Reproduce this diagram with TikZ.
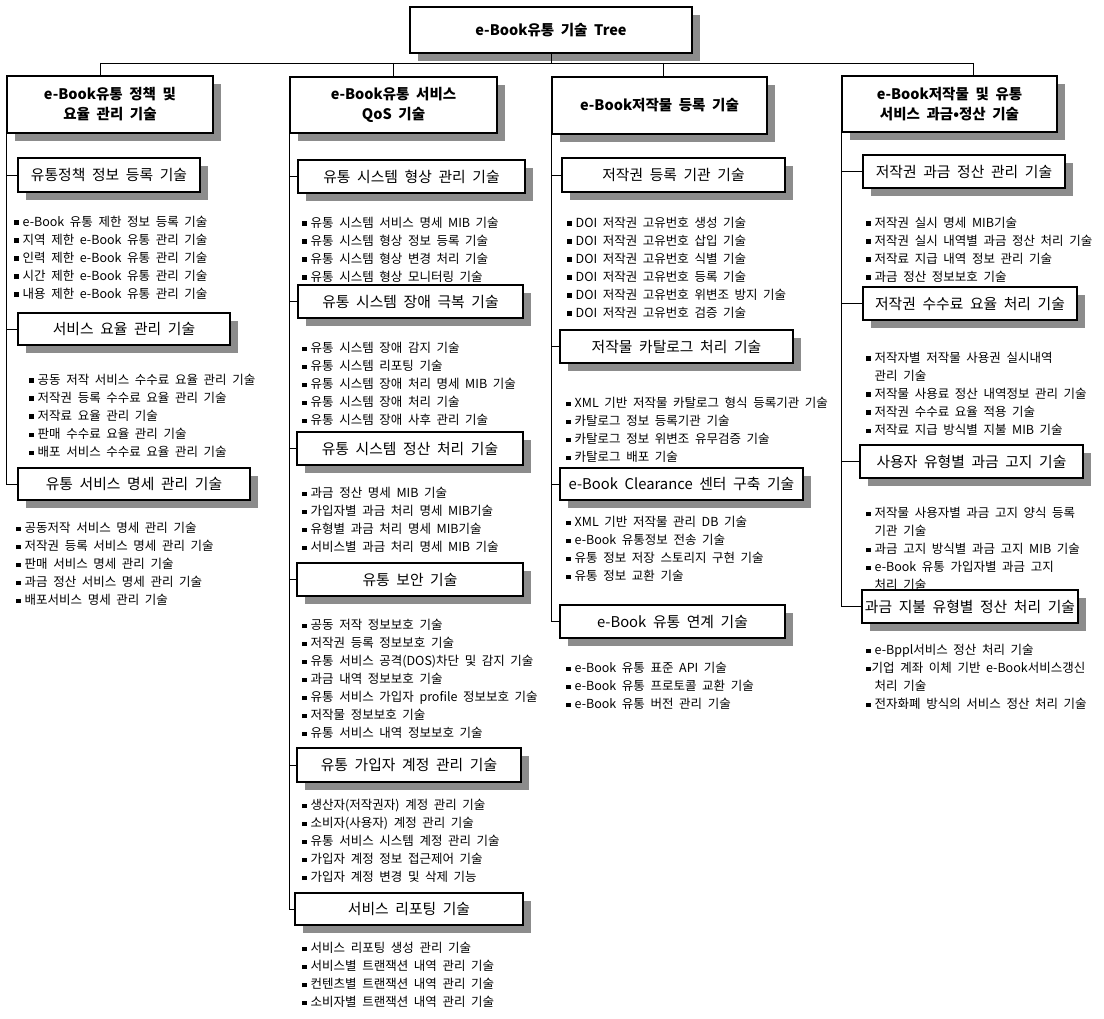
\documentclass[tikz,border=0pt]{standalone}
\usepackage{fontspec}
\setmainfont[WordSpace=2]{Noto Sans CJK KR}
\usetikzlibrary{shadows}
\newcommand{\myb}{\rule[1.5pt]{4.5pt}{4.5pt}\hspace{4pt}}
\newcommand{\mybt}{\rule[1.5pt]{4.5pt}{4.5pt}\hspace{1pt}}
\newcommand{\myind}{\hspace{8.5pt}}
\newcommand{\itemlist}[4]{%
  \foreach \itm [count=\i] in {#4} {%
    \node[item] (#1-\i) at (#2,{#3+4.5+18*(\i-1)}) {\itm};
  }}
\begin{document}
\begin{tikzpicture}[x=1pt,y=-1pt,
  shd/.style={drop shadow={shadow xshift=8pt, shadow yshift=-8pt, fill=black!45, opacity=1}},
  hdr/.style={draw, line width=1.3pt, fill=white, inner sep=0pt, align=center,
    font=\bfseries\fontsize{14.5}{20}\selectfont, shd},
  sub/.style={draw, line width=1.1pt, fill=white, inner sep=0pt,
    font=\fontsize{14.8}{17}\selectfont, shd},
  item/.style={anchor=base west, inner sep=0pt, font=\fontsize{12.5}{15}\selectfont},
  conn/.style={line width=0.9pt}]
\useasboundingbox[fill=white] (0,0) rectangle (1104,1019);

% ---- top ----
\node[hdr, minimum width=282, minimum height=46] (top) at (551,30) {e-Book유통 기술 Tree};
\coordinate (b1) at (100,63);
\coordinate (b2) at (393,63);
\coordinate (b3) at (663,63);
\coordinate (b4) at (973,63);

% ---- column headers ----
\node[hdr, minimum width=206, minimum height=57] (c1) at (110,104.5) {e-Book유통 정책 및\\요율 관리 기술};
\node[hdr, minimum width=207, minimum height=56] (c2) at (393.5,105) {e-Book유통 서비스\\QoS 기술};
\node[hdr, minimum width=215, minimum height=57] (c3) at (659.5,105.5) {e-Book저작물 등록 기술};
\node[hdr, minimum width=215, minimum height=56] (c4) at (949.5,104) {e-Book저작물 및 유통\\서비스 과금•정산 기술};

\draw[conn] (b1) -- (b4);
\draw[conn] (top.south) -- (top.south |- b1);
\draw[conn] (b1) -- (b1 |- c1.north);
\draw[conn] (b2) -- (b2 |- c2.north);
\draw[conn] (b3) -- (b3 |- c3.north);
\draw[conn] (b4) -- (b4 |- c4.north);

% ---- column 1 ----
\node[sub, minimum width=182, minimum height=34] (s11) at (109,175) {유통정책 정보 등록 기술};
\node[sub, minimum width=212, minimum height=32] (s12) at (124,329) {서비스 요율 관리 기술};
\node[sub, minimum width=232, minimum height=32] (s13) at (134,484) {유통 서비스 명세 관리 기술};
\draw[conn] (c1.south west) |- (s13.west);
\draw[conn] (c1.south west |- s11.west) -- (s11.west);
\draw[conn] (c1.south west |- s12.west) -- (s12.west);

\itemlist{g11}{14}{222}{\myb e-Book 유통 제한 정보 등록 기술, \myb 지역 제한 e-Book 유통 관리 기술, \myb 인력 제한 e-Book 유통 관리 기술, \myb 시간 제한 e-Book 유통 관리 기술, \myb 내용 제한 e-Book 유통 관리 기술}
\itemlist{g12}{29}{380}{\myb 공동 저작 서비스 수수료 요율 관리 기술, \myb 저작권 등록 수수료 요율 관리 기술, \myb 저작료 요율 관리 기술, \myb 판매 수수료 요율 관리 기술, \myb 배포 서비스 수수료 요율 관리 기술}
\itemlist{g13}{16}{528}{\myb 공동저작 서비스 명세 관리 기술, \myb 저작권 등록 서비스 명세 관리 기술, \myb 판매 서비스 명세 관리 기술, \myb 과금 정산 서비스 명세 관리 기술, \myb 배포서비스 명세 관리 기술}

% ---- column 2 ----
\node[sub, minimum width=227, minimum height=33] (s21) at (411.5,176.5) {유통 시스템 형상 관리 기술};
\node[sub, minimum width=225, minimum height=33] (s22) at (410.5,301.5) {유통 시스템 장애 극복 기술};
\node[sub, minimum width=226, minimum height=33] (s23) at (410,448.5) {유통 시스템 정산 처리 기술};
\node[sub, minimum width=226, minimum height=33] (s24) at (410,579.5) {유통 보안 기술};
\node[sub, minimum width=224, minimum height=34] (s25) at (409,765) {유통 가입자 계정 관리 기술};
\node[sub, minimum width=228, minimum height=32] (s26) at (409,909) {서비스 리포팅 기술};
\draw[conn] (c2.south west) |- (s26.west);
\foreach \s in {s21,s22,s23,s24,s25}{\draw[conn] (c2.south west |- \s.west) -- (\s.west);}

\itemlist{g21}{302}{223}{\myb 유통 시스템 서비스 명세 MIB 기술, \myb 유통 시스템 형상 정보 등록 기술, \myb 유통 시스템 형상 변경 처리 기술, \myb 유통 시스템 형상 모니터링 기술}
\itemlist{g22}{302}{348}{\myb 유통 시스템 장애 감지 기술, \myb 유통 시스템 리포팅 기술, \myb 유통 시스템 장애 처리 명세 MIB 기술, \myb 유통 시스템 장애 처리 기술, \myb 유통 시스템 장애 사후 관리 기술}
\itemlist{g23}{302}{493}{\myb 과금 정산 명세 MIB 기술, \myb 가입자별 과금 처리 명세 MIB기술, \myb 유형별 과금 처리 명세 MIB기술, \myb 서비스별 과금 처리 명세 MIB 기술}
\itemlist{g24}{302}{625}{\myb 공동 저작 정보보호 기술, \myb 저작권 등록 정보보호 기술, \myb 유통 서비스 공격(DOS)차단 및 감지 기술, \myb 과금 내역 정보보호 기술, \myb 유통 서비스 가입자 profile 정보보호 기술, \myb 저작물 정보보호 기술, \myb 유통 서비스 내역 정보보호 기술}
\itemlist{g25}{302}{805}{\myb 생산자(저작권자) 계정 관리 기술, \myb 소비자(사용자) 계정 관리 기술, \myb 유통 서비스 시스템 계정 관리 기술, \myb 가입자 계정 정보 접근제어 기술, \myb 가입자 계정 변경 및 삭제 기능}
\itemlist{g26}{302}{948}{\myb 서비스 리포팅 생성 관리 기술, \myb 서비스별 트랜잭션 내역 관리 기술, \myb 컨텐츠별 트랜잭션 내역 관리 기술, \myb 소비자별 트랜잭션 내역 관리 기술}

% ---- column 3 ----
\node[sub, minimum width=223, minimum height=34] (s31) at (673.5,175) {저작권 등록 기관 기술};
\node[sub, minimum width=233, minimum height=33] (s32) at (676.5,346.5) {저작물 카탈로그 처리 기술};
\node[sub, minimum width=243, minimum height=32] (s33) at (681.5,484) {e-Book Clearance 센터 구축 기술};
\node[sub, minimum width=225, minimum height=33] (s34) at (672.5,621.5) {e-Book 유통 연계 기술};
\draw[conn] (c3.south west) |- (s34.west);
\foreach \s in {s31,s32,s33}{\draw[conn] (c3.south west |- \s.west) -- (\s.west);}

\itemlist{g31}{567}{223}{\myb DOI 저작권 고유번호 생성 기술, \myb DOI 저작권 고유번호 삽입 기술, \myb DOI 저작권 고유번호 식별 기술, \myb DOI 저작권 고유번호 등록 기술, \myb DOI 저작권 고유번호 위변조 방지 기술, \myb DOI 저작권 고유번호 검증 기술}
\itemlist{g32}{566}{403}{\myb XML 기반 저작물 카탈로그 형식 등록기관 기술, \myb 카탈로그 정보 등록기관 기술, \myb 카탈로그 정보 위변조 유무검증 기술, \myb 카탈로그 배포 기술}
\itemlist{g33}{566}{522}{\myb XML 기반 저작물 관리 DB 기술, \myb e-Book 유통정보 전송 기술, \myb 유통 정보 저장 스토리지 구현 기술, \myb 유통 정보 교환 기술}
\itemlist{g34}{566}{668}{\myb e-Book 유통 표준 API 기술, \myb e-Book 유통 프로토콜 교환 기술, \myb e-Book 유통 버전 관리 기술}

% ---- column 4 ----
\node[sub, minimum width=202, minimum height=33] (s41) at (964,171.5) {저작권 과금 정산 관리 기술};
\node[sub, minimum width=214, minimum height=33] (s42) at (970,303.5) {저작권 수수료 요율 처리 기술};
\node[sub, minimum width=223, minimum height=33] (s43) at (971.5,461.5) {사용자 유형별 과금 고지 기술};
\node[sub, minimum width=216, minimum height=33] (s44) at (970,606.5) {과금 지불 유형별 정산 처리 기술};
\draw[conn] (c4.south west) |- (s44.west);
\foreach \s in {s41,s42,s43}{\draw[conn] (c4.south west |- \s.west) -- (\s.west);}

\itemlist{g41}{866}{223}{\myb 저작권 실시 명세 MIB기술, \myb 저작권 실시 내역별 과금 정산 처리 기술, \myb 저작료 지급 내역 정보 관리 기술, \myb 과금 정산 정보보호 기술}
\itemlist{g42}{866}{358}{\myb 저작자별 저작물 사용권 실시내역, \myind 관리 기술, \myb 저작물 사용료 정산 내역정보 관리 기술, \myb 저작권 수수료 요율 적용 기술, \myb 저작료 지급 방식별 지불 MIB 기술}
\itemlist{g43}{866}{513}{\myb 저작물 사용자별 과금 고지 양식 등록, \myind 기관 기술, \myb 과금 고지 방식별 과금 고지 MIB 기술, \myb e-Book 유통 가입자별 과금 고지, \myind 처리 기술}
\itemlist{g44}{866}{650}{\myb e-Bppl서비스 정산 처리 기술, \mybt 기업 계좌 이체 기반 e-Book서비스갱신, \myind 처리 기술, \myb 전자화폐 방식의 서비스 정산 처리 기술}
\end{tikzpicture}
\end{document}
